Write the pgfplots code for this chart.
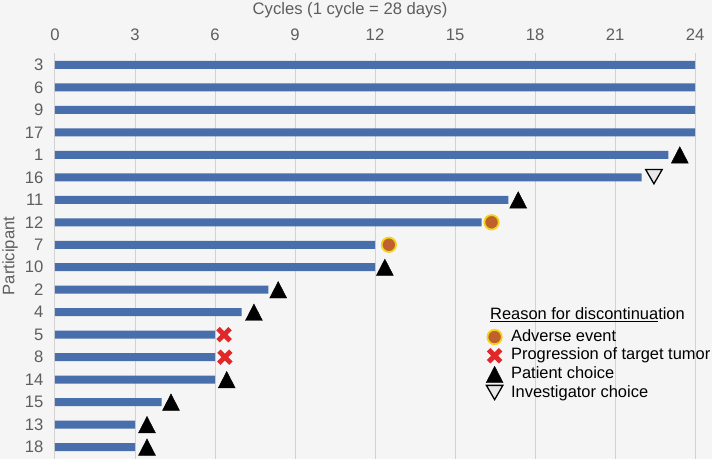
\documentclass[border=0pt]{standalone}
\usepackage{pgfplots}
\pgfplotsset{compat=1.18}
\usepackage{fontspec}
\setmainfont{Liberation Sans}
\definecolor{bg}{HTML}{F5F5F5}
\definecolor{barblue}{RGB}{72,110,172}
\definecolor{gridgray}{HTML}{D2D2D2}
\definecolor{labgray}{HTML}{5E5E5E}
\definecolor{aebrown}{HTML}{C0602A}
\definecolor{aeyellow}{HTML}{F2D21A}
\definecolor{progred}{HTML}{E0282A}
\definecolor{invfill}{HTML}{E8E8E8}
\begin{document}
\begin{tikzpicture}
\fill[bg] (-55bp,0bp) rectangle (657bp,459bp);
\path[use as bounding box] (-55bp,0bp) rectangle (657bp,459bp);
\begin{axis}[
  at={(0bp,0bp)}, anchor=south west,
  scale only axis, width=640bp, height=406bp,
  xmin=0, xmax=24, ymin=-0.53, ymax=17.53,
  xtick={0,3,...,24}, xticklabel pos=top,
  ytick={0,...,17},
  yticklabels={18,13,15,14,8,5,4,2,10,7,12,11,16,1,17,9,6,3},
  axis line style={draw=none}, major tick length=0pt,
  xmajorgrids, grid style={gridgray, line width=1bp},
  tick label style={font=\fontsize{16.7}{19}\selectfont, text=labgray},
  /pgf/number format/assume math mode=true,
  xticklabel style={yshift=9bp},
  yticklabel style={xshift=-8bp},
  xlabel={Cycles (1 cycle = 28 days)},
  xlabel style={at={(axis description cs:0.461,1)}, anchor=center, yshift=43bp, font=\fontsize{16.7}{19}\selectfont, text=labgray},
  ylabel={Participant},
  ylabel style={at={(axis description cs:-0.0703,0.5)}, anchor=center, font=\fontsize{16.7}{19}\selectfont, text=labgray},
  clip=false,
  legend style={draw=none, fill=none, at={(axis cs:16.16,5.32)}, anchor=north west,
    row sep=0pt, inner sep=0pt, column sep=7bp,
    nodes={inner sep=1bp, text height=12.5bp, text depth=4.2bp, font=\fontsize{16.5}{18}\selectfont}},
  legend cell align=left,
  legend image code/.code={\draw[mark repeat=2,mark phase=2,#1] plot coordinates {(0bp,0bp)(9bp,0bp)(18bp,0bp)};},
]
\addplot[xbar, bar width=8bp, bar shift=0pt, fill=barblue, draw=none, forget plot] coordinates {
(24,17) (24,16) (24,15) (24,14) (23,13) (22,12) (17,11) (16,10) (12,9) (12,8)
(8,7) (7,6) (6,5) (6,4) (6,3) (4,2) (3,1) (3,0)};
\addplot[only marks, mark=*, mark size=7.2bp, mark options={fill=aebrown, draw=aeyellow, line width=1.8bp}] coordinates {
(16.37,10) (12.52,9)};
\addlegendentry{Adverse event}
\addplot[only marks, mark=x, mark size=8.5bp, mark options={draw=progred, line width=4.8bp}] coordinates {
(6.34,5) (6.37,4)};
\addlegendentry{Progression of target tumor}
\addplot[only marks, mark=triangle*, mark size=9.8bp, mark options={fill=black, draw=black, yscale=1.12, yshift=-2.5bp}] coordinates {
(23.43,13) (17.37,11) (12.37,8) (8.37,7) (7.46,6) (6.44,3) (4.35,2) (3.45,1) (3.45,0)};
\addlegendentry{Patient choice}
\addplot[only marks, mark=triangle*, mark size=9.5bp, mark options={fill=invfill, draw=black, line width=1.3bp, rotate=180, yshift=-3bp}] coordinates {
(22.46,12)};
\addlegendentry{Investigator choice}
\node[anchor=base west, font=\fontsize{16.5}{19}\selectfont, text=black, inner sep=0pt] at (axis cs:16.31,5.69) {\underline{Reason for discontinua}tion};
\end{axis}
\end{tikzpicture}
\end{document}
